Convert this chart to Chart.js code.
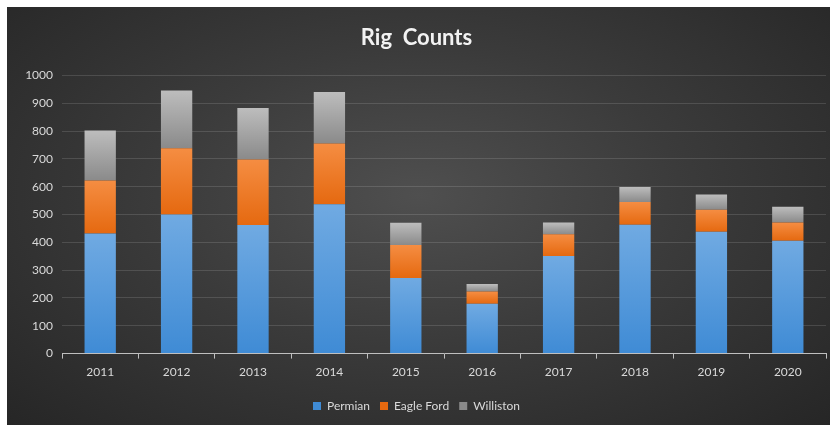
<!DOCTYPE html>
<html lang="en">
<head>
  <meta charset="UTF-8" />
  <title>Rig Counts</title>
  <script src="https://cdn.jsdelivr.net/npm/chart.js"></script>
  <style>
    body {
      margin: 0;
      background: #ffffff;
    }
    .panel {
      position: absolute;
      left: 7px;
      top: 7px;
      width: 823px;
      height: 418px;
      background: radial-gradient(ellipse at 50% 45%, #4f4f4f 0%, #3b3b3b 45%, #262626 100%);
    }
  </style>
</head>
<body>
  <div class="panel">
    <canvas id="rigChart" width="823" height="418"></canvas>
  </div>

  <script>
    const years = ['2011', '2012', '2013', '2014', '2015', '2016', '2017', '2018', '2019', '2020'];
    const permian   = [432, 500, 462, 537, 272, 179, 351, 463, 438, 406];
    const eagleFord = [190, 238, 236, 218, 118, 44, 78, 82, 79, 65];
    const williston = [180, 208, 185, 185, 80, 27, 42, 54, 55, 57];

    const seriesList = [permian, eagleFord, williston];

    // top/bottom colours for each series gradient
    const shades = [
      ['#70aae2', '#3f8bd5'],
      ['#f58d42', '#e56910'],
      ['#bdbdbd', '#8a8a8a']
    ];

    function barFill(ctx) {
      const chart = ctx.chart;
      const ds = ctx.datasetIndex;
      if (!chart.chartArea || ctx.type !== 'data') return shades[ds][1];
      const i = ctx.dataIndex;
      let base = 0;
      for (let k = 0; k < ds; k++) base += seriesList[k][i];
      const top = base + seriesList[ds][i];
      const y = chart.scales.y;
      const y0 = y.getPixelForValue(base);
      const y1 = y.getPixelForValue(top);
      if (!isFinite(y0) || !isFinite(y1) || y0 === y1) return shades[ds][1];
      const g = chart.ctx.createLinearGradient(0, y1, 0, y0);
      g.addColorStop(0, shades[ds][0]);
      g.addColorStop(1, shades[ds][1]);
      return g;
    }

    const ctx = document.getElementById('rigChart').getContext('2d');
    const rigChart = new Chart(ctx, {
      type: 'bar',
      data: {
        labels: years,
        datasets: [
          { label: 'Permian', data: permian, backgroundColor: barFill },
          { label: 'Eagle Ford', data: eagleFord, backgroundColor: barFill },
          { label: 'Williston', data: williston, backgroundColor: barFill }
        ]
      },
      options: {
        responsive: false,
        animation: false,
        categoryPercentage: 0.41,
        barPercentage: 1.0,
        layout: { padding: { top: 8, right: 4, bottom: 3, left: 0 } },
        plugins: {
          title: {
            display: true,
            text: 'Rig  Counts',
            color: '#f2f2f2',
            font: { family: 'Lato', size: 22, weight: 'bold' },
            padding: { top: 10, bottom: 24 }
          },
          legend: {
            position: 'bottom',
            labels: {
              color: '#d9d9d9',
              boxWidth: 8,
              boxHeight: 8,
              padding: 10,
              font: { family: 'Lato', size: 12 },
              generateLabels: (chart) => chart.data.datasets.map((d, i) => ({
                text: d.label,
                fillStyle: shades[i][1],
                strokeStyle: shades[i][1],
                lineWidth: 0,
                fontColor: '#d9d9d9',
                datasetIndex: i
              }))
            }
          },
          tooltip: { enabled: false }
        },
        scales: {
          x: {
            stacked: true,
            afterFit: (s) => { s.height += 5; },
            grid: {
              display: true,
              offset: true,
              drawOnChartArea: false,
              drawTicks: true,
              tickLength: 5,
              color: '#bfbfbf'
            },
            border: { display: true, color: '#bfbfbf', width: 1 },
            ticks: {
              color: '#d9d9d9',
              font: { family: 'Lato', size: 12 },
              padding: 6,
              maxRotation: 0
            }
          },
          y: {
            stacked: true,
            min: 0,
            max: 1000,
            afterFit: (s) => { s.width = 55; },
            grid: {
              color: 'rgba(255,255,255,0.13)',
              drawTicks: false
            },
            border: { display: false },
            ticks: {
              stepSize: 100,
              color: '#d9d9d9',
              font: { family: 'Lato', size: 12 },
              padding: 9,
              callback: (v) => String(v)
            }
          }
        }
      }
    });
  </script>
</body>
</html>
